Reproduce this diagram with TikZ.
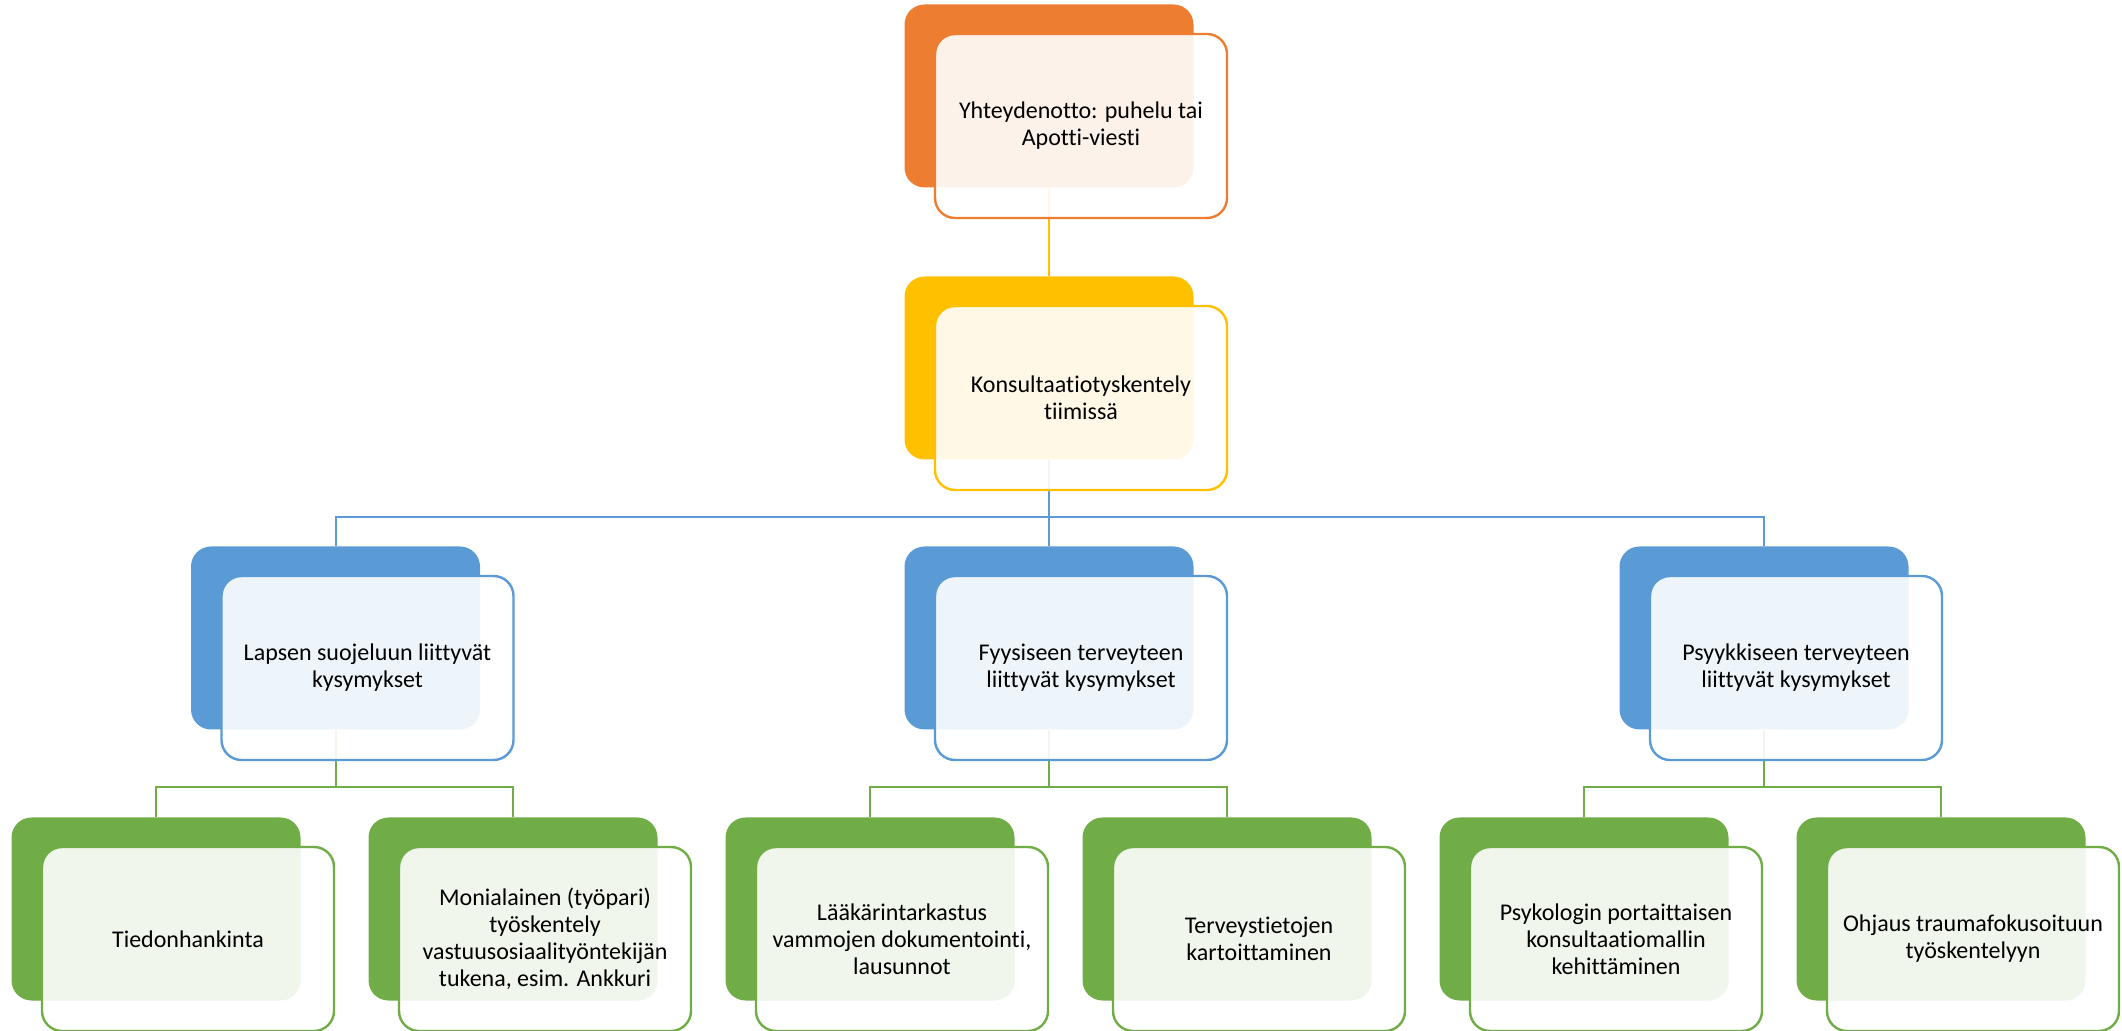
\documentclass[tikz,border=0pt]{standalone}
\usepackage{fontspec}
\setmainfont[Ligatures={NoCommon}]{Carlito}
\definecolor{corange}{HTML}{ED7D31}
\definecolor{cyellow}{HTML}{FFC000}
\definecolor{cblue}{HTML}{5B9BD5}
\definecolor{cgreen}{HTML}{70AD47}
\begin{document}
\begin{tikzpicture}[x=0.5pt,y=-0.5pt,
  backbox/.style={rectangle, rounded corners=10pt, minimum width=144.5pt, minimum height=91.5pt, inner sep=0pt, fill=#1, draw=none},
  frontbox/.style={rectangle, rounded corners=10pt, minimum width=146pt, minimum height=92pt, inner sep=0pt, fill=white, fill opacity=0.9, text opacity=1, draw=#1, line width=1.2pt, align=center, font=\fontsize{12pt}{13.5pt}\selectfont},
  conn/.style={draw=#1, line width=1pt}]
\useasboundingbox (0,0) rectangle (2122,1031);
% back boxes
\node[backbox=corange] (o-b) at (1049,96) {};
\node[backbox=cyellow] (y-b) at (1049,368) {};
\node[backbox=cblue] (b1-b) at (335.5,638) {};
\node[backbox=cblue] (b2-b) at (1049,638) {};
\node[backbox=cblue] (b3-b) at (1764,638) {};
\node[backbox=cgreen] (g1-b) at (156,909) {};
\node[backbox=cgreen] (g2-b) at (513,909) {};
\node[backbox=cgreen] (g3-b) at (870,909) {};
\node[backbox=cgreen] (g4-b) at (1227,909) {};
\node[backbox=cgreen] (g5-b) at (1584,909) {};
\node[backbox=cgreen] (g6-b) at (1941,909) {};
% bus levels
\coordinate (ybus) at (0,517);
\coordinate (gbus) at (0,787);
% connectors
\draw[conn=cyellow] (o-b.south) -- (y-b.north);
\draw[conn=cblue] (y-b.south) -- (y-b.south |- ybus);
\draw[conn=cblue] (b1-b.north) |- (b3-b.north |- ybus) -- (b3-b.north);
\draw[conn=cblue] (b2-b.north) -- (b2-b.north |- ybus);
\draw[conn=cgreen] (b1-b.south) -- (b1-b.south |- gbus);
\draw[conn=cgreen] (g1-b.north) |- (g2-b.north |- gbus) -- (g2-b.north);
\draw[conn=cgreen] (b2-b.south) -- (b2-b.south |- gbus);
\draw[conn=cgreen] (g3-b.north) |- (g4-b.north |- gbus) -- (g4-b.north);
\draw[conn=cgreen] (b3-b.south) -- (b3-b.south |- gbus);
\draw[conn=cgreen] (g5-b.north) |- (g6-b.north |- gbus) -- (g6-b.north);
% front boxes
\node[frontbox=corange] (o-f) at ([shift={(32,30)}]o-b.center) {Yhteydenotto: puhelu tai\\Apotti-viesti};
\node[frontbox=cyellow] (y-f) at ([shift={(32,30)}]y-b.center) {Konsultaatiotyskentely\\tiimissä};
\node[frontbox=cblue] (b1-f) at ([shift={(32,30)}]b1-b.center) {Lapsen suojeluun liittyvät\\kysymykset};
\node[frontbox=cblue] (b2-f) at ([shift={(32,30)}]b2-b.center) {Fyysiseen terveyteen\\liittyvät kysymykset};
\node[frontbox=cblue] (b3-f) at ([shift={(32,30)}]b3-b.center) {Psyykkiseen terveyteen\\liittyvät kysymykset};
\node[frontbox=cgreen] (g1-f) at ([shift={(32,30)}]g1-b.center) {Tiedonhankinta};
\node[frontbox=cgreen] (g2-f) at ([shift={(32,30)}]g2-b.center) {Monialainen (työpari)\\työskentely\\vastuusosiaalityöntekijän\\tukena, esim. Ankkuri};
\node[frontbox=cgreen] (g3-f) at ([shift={(32,30)}]g3-b.center) {Lääkärintarkastus\\vammojen dokumentointi,\\lausunnot};
\node[frontbox=cgreen] (g4-f) at ([shift={(32,30)}]g4-b.center) {Terveystietojen\\kartoittaminen};
\node[frontbox=cgreen] (g5-f) at ([shift={(32,30)}]g5-b.center) {Psykologin portaittaisen\\konsultaatiomallin\\kehittäminen};
\node[frontbox=cgreen] (g6-f) at ([shift={(32,30)}]g6-b.center) {Ohjaus traumafokusoituun\\työskentelyyn};
\end{tikzpicture}
\end{document}
